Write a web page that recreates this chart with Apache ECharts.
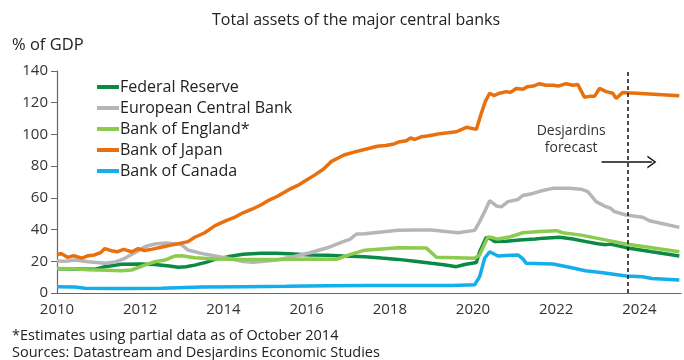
<!DOCTYPE html>
<html>
<head>
<meta charset="utf-8">
<script src="https://cdn.jsdelivr.net/npm/echarts@6/dist/echarts.min.js"></script>
<style>html,body{margin:0;padding:0;background:#fff}#c{width:684px;height:360px}</style>
</head>
<body>
<div id="c"></div>
<script>
var seriesNames = ['Federal Reserve', 'European Central Bank', 'Bank of England*', 'Bank of Japan', 'Bank of Canada'];
var yTicks = [0, 20, 40, 60, 80, 100, 120, 140];
var xTicks = [2010, 2012, 2014, 2016, 2018, 2020, 2022, 2024];
var forecastStart = 2023.71;

var fed = [[2010,15.3],[2010.5,15.2],[2010.9,14.9],[2011.15,16.6],[2011.55,18.1],[2012.0,18.3],[2012.35,18],[2012.7,17],[2012.91,16.2],[2013.1,16.5],[2013.31,17.6],[2013.6,19.5],[2013.8,21.2],[2014.1,22.8],[2014.47,24.4],[2014.9,25],[2015.28,25],[2015.7,24.6],[2016.08,24],[2016.5,23.8],[2016.88,23.3],[2017.4,22.9],[2017.8,22],[2018.2,21.2],[2018.6,20],[2019.0,18.7],[2019.3,17.8],[2019.6,16.6],[2019.8,18],[2020.08,19.2],[2020.16,26],[2020.32,35.1],[2020.44,34],[2020.52,32.4],[2020.8,32.6],[2021.12,33.4],[2021.5,34],[2021.7,34.6],[2022.08,35.1],[2022.4,34],[2022.72,32.4],[2023.0,31],[2023.2,30.5],[2023.3,30.8],[2023.68,28.6],[2024.3,26],[2024.96,23.3]];

var ecb = [[2010,20.2],[2010.2,20],[2010.43,20.8],[2010.75,19.7],[2011.15,18.7],[2011.39,19.5],[2011.63,21.9],[2011.87,25.4],[2012.11,29.2],[2012.35,30.9],[2012.6,31.5],[2012.83,31],[2012.99,30.5],[2013.15,27.1],[2013.47,25],[2013.8,23.3],[2014.1,22],[2014.47,19.9],[2014.71,19.4],[2015.0,20],[2015.28,20.8],[2015.7,23],[2016.08,25.4],[2016.5,28.5],[2016.88,32.4],[2017.04,33.8],[2017.2,37.2],[2017.4,37.4],[2017.8,38.5],[2018.2,39.6],[2018.6,39.8],[2019.0,39.7],[2019.64,38],[2020.04,39.5],[2020.16,45],[2020.28,51.3],[2020.4,58.2],[2020.56,54.9],[2020.68,54.3],[2020.84,57.6],[2021.08,59],[2021.2,61.5],[2021.44,62.8],[2021.7,64.8],[2021.92,66],[2022.32,66],[2022.6,65.5],[2022.76,63.9],[2022.96,57.6],[2023.15,55],[2023.3,53.5],[2023.4,51.3],[2023.68,49.2],[2024.08,47.8],[2024.24,45.6],[2024.96,41.4]];

var boe = [[2010,15.5],[2010.4,15.3],[2010.75,14.6],[2011.2,14.3],[2011.55,14],[2011.79,14.5],[2012.11,17.6],[2012.35,19.7],[2012.59,20.8],[2012.83,23.3],[2013.0,23.5],[2013.31,22.2],[2013.8,21.5],[2014.47,21.2],[2015.28,21.2],[2016.08,21.4],[2016.72,21.3],[2017.04,24.2],[2017.4,27],[2017.8,27.8],[2018.2,28.6],[2018.88,28.3],[2019.12,22.5],[2019.6,22.2],[2020.04,21.9],[2020.16,24],[2020.36,35.4],[2020.45,35],[2020.6,34],[2020.9,35.5],[2021.2,38],[2021.6,38.8],[2022.0,39.3],[2022.16,38],[2022.6,36.5],[2023.12,33.8],[2023.68,30.9],[2024.3,28.5],[2024.96,26]];

var boj = [[2010.0,24],[2010.1,25],[2010.25,22.5],[2010.4,23.5],[2010.6,22],[2010.75,23.5],[2010.9,24],[2011.05,25.5],[2011.15,28],[2011.3,26.7],[2011.45,26],[2011.6,27.5],[2011.8,26],[2011.95,28],[2012.1,26.8],[2012.27,27.5],[2012.5,28.8],[2012.8,30.5],[2013.15,32.4],[2013.3,35],[2013.55,38],[2013.8,42.5],[2014.05,45.5],[2014.25,47.5],[2014.47,50.6],[2014.7,53],[2014.9,55.5],[2015.1,58.6],[2015.3,61],[2015.56,65],[2015.8,68],[2015.96,70.6],[2016.2,74.5],[2016.4,78],[2016.6,83],[2016.9,87],[2017.16,89],[2017.44,90.8],[2017.7,92.5],[2017.9,93],[2018.1,94],[2018.24,95.4],[2018.4,96],[2018.5,97.8],[2018.6,96.8],[2018.75,98.5],[2018.9,99],[2019.04,99.6],[2019.2,100.5],[2019.4,101],[2019.6,101.7],[2019.84,104.5],[2020.08,103.2],[2020.2,113.3],[2020.3,121],[2020.4,126],[2020.5,124.5],[2020.64,126],[2020.8,127],[2020.9,126.5],[2021.04,129],[2021.2,128.5],[2021.3,130],[2021.45,130.5],[2021.6,132],[2021.75,131],[2021.92,131],[2022.05,130.5],[2022.24,132],[2022.4,131],[2022.52,131.5],[2022.68,123.4],[2022.8,124],[2022.92,124],[2023.04,129],[2023.2,127],[2023.36,126],[2023.44,122.7],[2023.6,126.5],[2023.64,127],[2023.72,126.3],[2024.96,124.4]];

var boc = [[2010,4],[2010.43,3.8],[2010.67,3],[2011.5,2.8],[2012.5,3],[2013.5,3.8],[2014.5,4],[2015.5,4.2],[2016.5,4.6],[2017.5,4.8],[2018.5,4.7],[2019.5,4.8],[2020.04,5.2],[2020.16,10.3],[2020.28,21.9],[2020.4,26],[2020.6,23.3],[2020.8,23.6],[2021.08,24],[2021.2,21.5],[2021.28,18.7],[2021.92,18.3],[2022.32,16.2],[2022.7,14],[2023.12,12.8],[2023.68,10.7],[2024.08,10.3],[2024.3,9.2],[2024.96,8.2]];

var colors = ['#0B8A45', '#B6B6BA', '#8CCB4E', '#E8700F', '#14AEEA'];
var dataSets = [fed, ecb, boe, boj, boc];
var FONT = '"Open Sans", "Noto Sans", sans-serif';

var chart = echarts.init(document.getElementById('c'), null, {renderer: 'canvas'});

var series = dataSets.map(function (d, i) {
  return {
    name: seriesNames[i],
    type: 'line',
    data: d,
    symbol: 'none',
    lineStyle: {width: 3.5, color: colors[i]},
    itemStyle: {color: colors[i]},
    z: 2
  };
});

series.push({
  name: 'annot',
  type: 'line',
  data: [],
  markLine: {
    silent: true,
    symbol: ['none', 'none'],
    label: {show: false},
    lineStyle: {color: '#111', type: [4, 3], width: 1.5},
    data: [{xAxis: forecastStart}]
  },
  markPoint: {
    silent: true,
    symbol: 'circle',
    symbolSize: 0,
    label: {
      show: true, position: 'inside', formatter: 'Desjardins\nforecast',
      fontFamily: FONT, fontSize: 14, lineHeight: 17, color: '#333'
    },
    data: [{coord: [2022.36, 96.5]}]
  }
});

series.push({
  name: 'arrow',
  type: 'line',
  data: [],
  markLine: {
    silent: true,
    symbol: ['none', 'path://M0,10 L5,0 L10,10 L8.6,10 L5,2.6 L1.4,10 Z'],
    symbolSize: [13, 9],
    label: {show: false},
    lineStyle: {color: '#111', type: 'solid', width: 1.5},
    data: [[{coord: [2023.09, 82.6]}, {coord: [2024.3, 82.6]}]]
  }
});

chart.setOption({
  animation: false,
  backgroundColor: '#fff',
  textStyle: {fontFamily: FONT},
  grid: {left: 57, right: 3, top: 71, bottom: 67, containLabel: false},
  legend: {
    data: seriesNames,
    orient: 'vertical',
    left: 97,
    top: 78,
    padding: 0,
    itemGap: 3,
    itemWidth: 22,
    itemHeight: 4,
    icon: 'rect',
    textStyle: {fontFamily: FONT, fontSize: 16, color: '#222', lineHeight: 18, padding: [0, 0, 0, -4]},
    selectedMode: false
  },
  xAxis: {
    type: 'value',
    min: 2010,
    max: 2025,
    interval: 2,
    splitLine: {show: false},
    axisTick: {show: false},
    axisLine: {lineStyle: {color: '#666', width: 1.2}},
    axisLabel: {
      fontFamily: FONT, fontSize: 15, color: '#333', margin: 9, showMaxLabel: false,
      formatter: function (v) { return xTicks.indexOf(v) >= 0 ? String(v) : ''; }
    }
  },
  yAxis: {
    type: 'value',
    min: yTicks[0],
    max: yTicks[yTicks.length - 1],
    interval: 20,
    splitLine: {show: false},
    axisLine: {show: true, lineStyle: {color: '#666', width: 1.2}},
    axisTick: {show: true, length: 6, lineStyle: {color: '#666'}},
    axisLabel: {fontFamily: FONT, fontSize: 15, color: '#333', margin: 9}
  },
  graphic: [
    {type: 'text', x: 356, y: 20, style: {text: 'Total assets of the major central banks', font: '16px ' + FONT, fill: '#222', textAlign: 'center', textVerticalAlign: 'middle'}},
    {type: 'text', x: 12, y: 45, style: {text: '% of GDP', font: '16.5px ' + FONT, fill: '#222', textAlign: 'left', textVerticalAlign: 'middle'}},
    {type: 'text', x: 12, y: 336, style: {text: '*Estimates using partial data as of October 2014', font: '14.5px ' + FONT, fill: '#222', textAlign: 'left', textVerticalAlign: 'middle'}},
    {type: 'text', x: 12, y: 353, style: {text: 'Sources: Datastream and Desjardins Economic Studies', font: '14.5px ' + FONT, fill: '#222', textAlign: 'left', textVerticalAlign: 'middle'}}
  ],
  series: series
});
</script>
</body>
</html>
